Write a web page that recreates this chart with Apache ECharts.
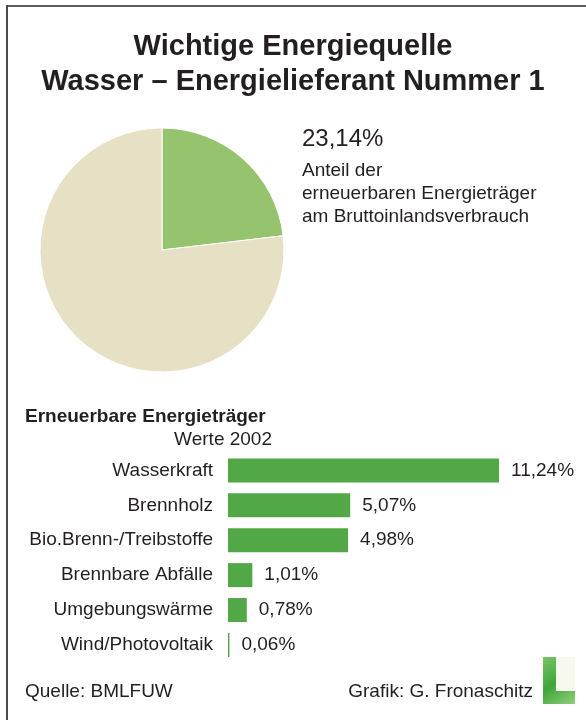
<!DOCTYPE html>
<html>
<head>
<meta charset="utf-8">
<script src="https://cdn.jsdelivr.net/npm/echarts@6/dist/echarts.min.js"></script>
<style>
  html, body { margin: 0; padding: 0; background: #fff; }
  #chart { width: 586px; height: 720px; }
</style>
</head>
<body>
<div id="chart"></div>
<script>
// Daten 2002
const pieNames = ['erneuerbar', 'sonstige'];
const pieValues = [23.14, 76.86];
const categories = ['Wasserkraft', 'Brennholz', 'Bio.Brenn-/Treibstoffe', 'Brennbare Abfälle', 'Umgebungswärme', 'Wind/Photovoltaik'];
const shares = [11.24, 5.07, 4.98, 1.01, 0.78, 0.06];

const font = "'Liberation Sans', Arial, sans-serif";
const ink = '#231f20';
const fmt = v => v.toFixed(2).replace('.', ',') + '%';

let chart = echarts.init(document.getElementById('chart'));
let option = {
  backgroundColor: '#fff',
  animation: false,
  title: {
    text: 'Wichtige Energiequelle\nWasser – Energielieferant Nummer 1',
    left: 'center',
    top: 24,
    textStyle: { fontFamily: font, fontSize: 29, fontWeight: 'bold', color: ink, lineHeight: 35 }
  },
  grid: { left: 228, top: 453, width: 24.11 * 12, height: 209.4, containLabel: false },
  xAxis: {
    type: 'value', min: 0, max: 12, show: false
  },
  yAxis: {
    type: 'category',
    data: categories,
    inverse: true,
    axisLine: { show: false },
    axisTick: { show: false },
    axisLabel: { margin: 15, fontFamily: font, fontSize: 19, color: ink }
  },
  series: [
    {
      type: 'pie',
      center: [162, 250],
      radius: 122,
      startAngle: 90,
      clockwise: true,
      label: { show: false },
      labelLine: { show: false },
      silent: true,
      itemStyle: { borderColor: '#fff', borderWidth: 1 },
      data: pieNames.map((n, i) => ({
        name: n, value: pieValues[i],
        itemStyle: { color: i === 0 ? '#96c46e' : '#e6e0c4' }
      }))
    },
    {
      type: 'bar',
      data: shares,
      barWidth: 24,
      itemStyle: { color: '#52a846' },
      label: {
        show: true, position: 'right', distance: 12,
        fontFamily: font, fontSize: 19, color: ink,
        formatter: p => fmt(p.value)
      }
    }
  ],
  graphic: [
    // Rahmen oben und links
    { type: 'rect', shape: { x: 6, y: 5, width: 580, height: 2 }, style: { fill: '#5f5f5f' } },
    { type: 'rect', shape: { x: 6, y: 5, width: 2, height: 715 }, style: { fill: '#4a4a4a' } },
    { type: 'text', left: 302, top: 127, style: { text: fmt(pieValues[0]), font: '24px ' + font, fill: ink } },
    { type: 'text', left: 302, top: 159, style: { text: 'Anteil der\nerneuerbaren Energieträger\nam Bruttoinlandsverbrauch', font: '19px ' + font, fill: ink, lineHeight: 23 } },
    { type: 'text', left: 25, top: 407, style: { text: 'Erneuerbare Energieträger', font: 'bold 19px ' + font, fill: ink } },
    { type: 'text', right: 314, top: 430, style: { text: 'Werte 2002', font: '19px ' + font, fill: ink } },
    { type: 'text', left: 25, top: 682, style: { text: 'Quelle: BMLFUW', font: '19px ' + font, fill: ink } },
    { type: 'text', right: 53, top: 682, style: { text: 'Grafik: G. Fronaschitz', font: '19px ' + font, fill: ink } },
    // kleines Logo
    { type: 'rect', shape: { x: 543, y: 657, width: 32, height: 47 },
      style: { fill: new echarts.graphic.LinearGradient(0, 0, 1, 1, [
        { offset: 0, color: '#7cc46a' }, { offset: 0.5, color: '#3fa53a' }, { offset: 1, color: '#8fd07a' }]) } },
    { type: 'rect', shape: { x: 556, y: 657, width: 19, height: 34 }, style: { fill: '#f7f9ef' } }
  ]
};
option && chart.setOption(option);
</script>
</body>
</html>
